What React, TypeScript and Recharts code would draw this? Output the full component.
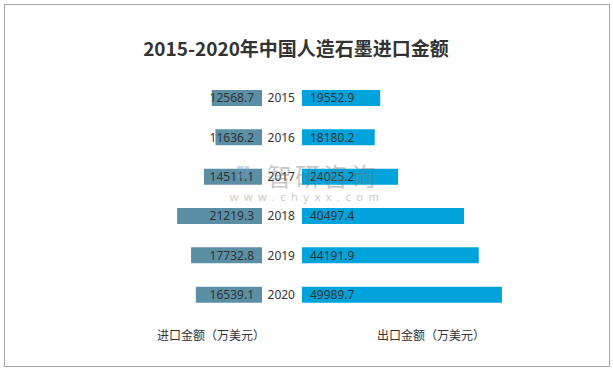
import React from 'react';
import { BarChart, Bar, XAxis, YAxis, LabelList } from 'recharts';

const years = ['2015', '2016', '2017', '2018', '2019', '2020'];
const importValues = [12568.7, 11636.2, 14511.1, 21219.3, 17732.8, 16539.1];
const exportValues = [19552.9, 18180.2, 24025.2, 40497.4, 44191.9, 49989.7];

const title = '2015-2020年中国人造石墨进口金额';
const importLabel = '进口金额（万美元）';
const exportLabel = '出口金额（万美元）';

const IMPORT_COLOR = '#5b8fa6';
const EXPORT_COLOR = '#00a3db';
const TEXT_COLOR = '#333333';
const FONT = '"Noto Sans", "Noto Sans CJK SC", sans-serif';
const CJK = '"Noto Sans CJK SC", sans-serif';

const data = years.map((year, i) => ({
  year,
  imp: importValues[i],
  exp: exportValues[i],
}));

const chartTop = 78;
const chartBottom = 369 - 314;

const App = () => {
  return (
    <div style={{ position: 'fixed', left: 0, top: 0, width: 613, height: 369, background: '#fff', fontFamily: FONT }}>
      <div style={{ position: 'absolute', left: 4, top: 4, width: 604, height: 361, border: '1px solid #a6a6a6' }} />

      <svg width={613} height={369} style={{ position: 'absolute', left: 0, top: 0 }}>
        <text x={296} y={56} textAnchor="middle" fontSize={19} fontWeight="bold" fill="#333" fontFamily={CJK}>{title}</text>
        <text x={157} y={340} fontSize={12} fill={TEXT_COLOR} fontFamily={CJK}>{importLabel}</text>
        <text x={377} y={340} fontSize={12} fill={TEXT_COLOR} fontFamily={CJK}>{exportLabel}</text>
      </svg>

      <div style={{ position: 'absolute', left: 0, top: 0 }}>
        <BarChart width={300} height={369} data={data} layout="vertical"
          margin={{ top: chartTop, right: 38, bottom: chartBottom, left: 62 }}>
          <XAxis type="number" domain={[0, 50000]} reversed hide />
          <YAxis type="category" dataKey="year" hide />
          <Bar dataKey="imp" fill={IMPORT_COLOR} barSize={16} isAnimationActive={false}>
            <LabelList dataKey="imp" position="insideLeft" offset={8} fill={TEXT_COLOR} fontSize={12} fontFamily={FONT} />
          </Bar>
        </BarChart>
      </div>

      <div style={{ position: 'absolute', left: 262, top: 0 }}>
        <BarChart width={351} height={369} data={data} layout="vertical"
          margin={{ top: chartTop, right: 111, bottom: chartBottom, left: 40 }}>
          <XAxis type="number" domain={[0, 50000]} hide />
          <YAxis type="category" dataKey="year" hide />
          <Bar dataKey="exp" fill={EXPORT_COLOR} barSize={16} isAnimationActive={false}>
            <LabelList dataKey="year" position="left" offset={7} fill={TEXT_COLOR} fontSize={12} fontFamily={FONT} />
            <LabelList dataKey="exp" position="insideLeft" offset={8} fill={TEXT_COLOR} fontSize={12} fontFamily={FONT} />
          </Bar>
        </BarChart>
      </div>

      {/* watermark on top */}
      <svg width={613} height={369} style={{ position: 'absolute', left: 0, top: 0, pointerEvents: 'none' }}>
        <g opacity={0.4}>
          <rect x={237} y={166} width={7} height={5} fill="#6f9ccc" />
          <rect x={237} y={173} width={7} height={5} fill="#6f9ccc" />
          <rect x={245} y={166} width={4} height={12} fill="#6f9ccc" />
          <text x={323} y={186} textAnchor="middle" fontSize={25} fill="#777" fontFamily={CJK} letterSpacing={3}>智研咨询</text>
          <text x={307} y={201} textAnchor="middle" fontSize={11} fill="#777" letterSpacing={5.5}>www.chyxx.com</text>
        </g>
      </svg>
    </div>
  );
};

export default App;
